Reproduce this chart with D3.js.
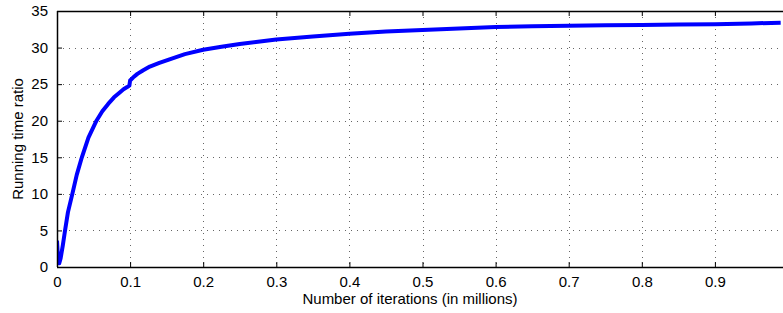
<!DOCTYPE html>
<html>
<head>
<meta charset="utf-8">
<script src="https://cdn.jsdelivr.net/npm/d3@7"></script>
<style>
  body { margin: 0; background: #fff; }
  svg { display: block; font-family: "Liberation Sans", Arial, sans-serif; }
</style>
</head>
<body>
<svg id="chart" width="783" height="313"></svg>
<script>
// iterations (millions) and running time ratio
var iterations = [0, 0.001, 0.003, 0.005, 0.008, 0.011, 0.015, 0.021, 0.027, 0.034, 0.043, 0.054,
                  0.062, 0.07, 0.078, 0.085, 0.091, 0.096, 0.099, 0.1, 0.104, 0.11, 0.118, 0.127,
                  0.14, 0.154, 0.175, 0.2, 0.225, 0.25, 0.275, 0.3, 0.35, 0.4, 0.45, 0.5,
                  0.55, 0.6, 0.65, 0.7, 0.75, 0.8, 0.85, 0.9, 0.95, 0.99];
var ratio = [3.6, 1.8, 0.5, 1.2, 3.0, 5.0, 7.5, 10.0, 12.6, 15.0, 17.7, 20.0,
             21.3, 22.3, 23.2, 23.8, 24.3, 24.6, 24.8, 25.5, 25.9, 26.4, 26.9, 27.4,
             27.9, 28.4, 29.1, 29.7, 30.1, 30.5, 30.8, 31.1, 31.5, 31.9, 32.2, 32.4,
             32.6, 32.8, 32.9, 33.0, 33.05, 33.1, 33.15, 33.2, 33.3, 33.4];
var xTicks = [0, 0.1, 0.2, 0.3, 0.4, 0.5, 0.6, 0.7, 0.8, 0.9];
var yTicks = [0, 5, 10, 15, 20, 25, 30, 35];

(function() {
    var svg = d3.select("#chart"),
        W = 783,
        mLeft = 57, mTop = 11, mBottom = 267, mRight = 788,
        fs = 15;

    var x = d3.scaleLinear().domain([0, 1]).range([mLeft, mRight]);
    var y = d3.scaleLinear().domain([0, 35]).range([mBottom, mTop]);

    // grid (MATLAB dotted)
    var grid = svg.append("g").attr("class", "grid")
        .attr("stroke", "#666").attr("stroke-width", 1).attr("stroke-dasharray", "1,5");
    grid.selectAll("line.gx").data(xTicks.slice(1)).enter().append("line")
        .attr("x1", function(d) { return Math.round(x(d)) + 0.5; })
        .attr("x2", function(d) { return Math.round(x(d)) + 0.5; })
        .attr("y1", mTop).attr("y2", mBottom);
    grid.selectAll("line.gy").data(yTicks.slice(1, -1)).enter().append("line")
        .attr("y1", function(d) { return Math.round(y(d)) + 0.5; })
        .attr("y2", function(d) { return Math.round(y(d)) + 0.5; })
        .attr("x1", mLeft).attr("x2", W);

    // data line
    svg.append("defs").append("clipPath").attr("id", "clip")
        .append("rect").attr("x", mLeft).attr("y", mTop - 3)
        .attr("width", W - mLeft).attr("height", mBottom - mTop + 3);

    var pts = iterations.map(function(d, i) { return [d, ratio[i]]; });
    var line = d3.line().x(function(d) { return x(d[0]); }).y(function(d) { return y(d[1]); });
    svg.append("path")
        .datum(pts)
        .attr("clip-path", "url(#clip)")
        .attr("d", line)
        .attr("fill", "none")
        .attr("stroke", "#0000ff")
        .attr("stroke-width", 4)
        .attr("stroke-linejoin", "round");

    // axes (box style, ticks inward)
    var xAxis = svg.append("g").attr("transform", "translate(0," + mBottom + ")")
        .call(d3.axisBottom(x).tickValues(xTicks).tickSizeInner(-5).tickSizeOuter(0).tickPadding(9)
            .tickFormat(function(d) { return d === 0 ? "0" : d3.format(".1f")(d); }));
    var xTop = svg.append("g").attr("transform", "translate(0," + mTop + ")")
        .call(d3.axisTop(x).tickValues(xTicks).tickSizeInner(-5).tickSizeOuter(0).tickFormat(""));
    var yAxis = svg.append("g").attr("transform", "translate(" + mLeft + ",0)")
        .call(d3.axisLeft(y).tickValues(yTicks).tickSizeInner(-5).tickSizeOuter(0).tickPadding(9));

    [xAxis, xTop, yAxis].forEach(function(g) {
        g.select(".domain").remove();
        g.selectAll(".tick line").attr("stroke", "#000");
        g.selectAll("text").attr("font-size", fs).attr("fill", "#000")
            .attr("font-family", "Liberation Sans, Arial, sans-serif");
    });

    svg.append("line").attr("x1", mLeft).attr("x2", W).attr("y1", mBottom + 0.5).attr("y2", mBottom + 0.5)
        .attr("stroke", "#000").attr("stroke-width", 1.5);
    svg.append("line").attr("x1", mLeft).attr("x2", W).attr("y1", mTop + 0.5).attr("y2", mTop + 0.5)
        .attr("stroke", "#000").attr("stroke-width", 1.5);
    svg.append("line").attr("x1", mLeft + 0.5).attr("x2", mLeft + 0.5).attr("y1", mTop).attr("y2", mBottom)
        .attr("stroke", "#000").attr("stroke-width", 1.5);

    // labels
    svg.append("text").attr("x", 410).attr("y", 304)
        .attr("text-anchor", "middle").attr("font-size", fs).text("Number of iterations (in millions)");
    svg.append("text").attr("transform", "translate(23," + (mTop + mBottom) / 2 + ") rotate(-90)")
        .attr("text-anchor", "middle").attr("font-size", fs).text("Running time ratio");
})();
</script>
</body>
</html>
